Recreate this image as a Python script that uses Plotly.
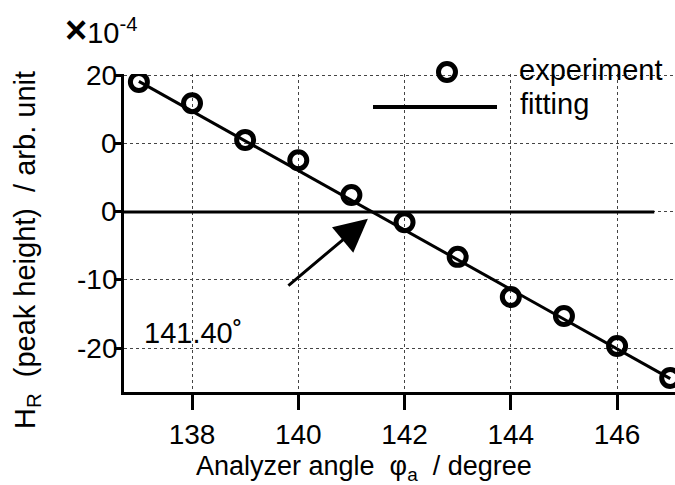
import plotly.graph_objects as go

# ---- data ----
angle = [137, 138, 139, 140, 141, 142, 143, 144, 145, 146, 147]
hr = [19.1, 16.0, 10.6, 7.6, 2.5, -1.5, -6.6, -12.5, -15.3, -19.7, -24.4]
fit_angle = [137, 147]
fit_hr = [19.2, -24.5]
zero_angle = [136.72, 146.7]
zero_hr = [0, 0]
x_tickvals = [138, 140, 142, 144, 146]
y_tickvals = [20, 10, 0, -10, -20]
y_ticktext = ["20", "0", "0", "-10", "-20"]
cross_angle = 141.31
cross_hr = -1.0

FONT = "Liberation Sans"
fs = 28

fig = go.Figure()
fig.add_trace(go.Scatter(x=zero_angle, y=zero_hr, mode="lines",
                         line=dict(color="black", width=3), showlegend=False))
fig.add_trace(go.Scatter(x=fit_angle, y=fit_hr, mode="lines",
                         line=dict(color="black", width=3), showlegend=False))
fig.add_trace(go.Scatter(x=angle, y=hr, mode="markers",
                         marker=dict(symbol="circle-open", size=17, color="black",
                                     line=dict(width=5, color="black")),
                         showlegend=False))

axis_common = dict(showline=True, linewidth=3, linecolor="black", mirror=False,
                   ticks="outside", tickcolor="black", tickwidth=3,
                   showgrid=True, gridcolor="#444", gridwidth=1, griddash="dot",
                   zeroline=False, tickfont=dict(family=FONT, size=fs, color="black"))

fig.update_xaxes(range=[136.72, 147.09], tickvals=x_tickvals, ticklen=15, **axis_common)
fig.update_yaxes(range=[-26.47, 20.29], tickvals=y_tickvals, ticktext=y_ticktext,
                 ticklen=7, showticklabels=False, **axis_common)

def px(x):
    return (x - 124) / 551

def py(y):
    return (392 - y) / 318

shapes = [
    dict(type="rect", xref="paper", yref="paper", x0=px(420), x1=1.0, y0=py(88), y1=py(50),
         fillcolor="white", line=dict(width=0), layer="between"),
    dict(type="line", xref="paper", yref="paper", x0=px(373), x1=px(497), y0=py(107), y1=py(107),
         line=dict(color="black", width=4)),
    dict(type="circle", xref="paper", yref="paper", xsizemode="pixel", ysizemode="pixel",
         xanchor=px(447), yanchor=py(72), x0=-8.5, x1=8.5, y0=-8.5, y1=8.5,
         line=dict(color="black", width=5)),
]

annotations = [
    dict(text="experiment", xref="paper", yref="paper", x=px(517), y=py(70),
         xanchor="left", yanchor="middle", showarrow=False,
         font=dict(family=FONT, size=29, color="black")),
    dict(text="fitting", xref="paper", yref="paper", x=px(518), y=py(104),
         xanchor="left", yanchor="middle", showarrow=False,
         font=dict(family=FONT, size=29, color="black")),
    dict(text="<span style='font-size:38px'><b>×</b></span>10<sup>-4</sup>",
         xref="paper", yref="paper", x=px(63), y=py(30),
         xanchor="left", yanchor="middle", showarrow=False,
         font=dict(family=FONT, size=29, color="black")),
    dict(text="H<sub>R</sub>  (peak height)  / arb. unit", xref="paper", yref="paper",
         x=px(27), y=py(250), xanchor="center", yanchor="middle", textangle=-90,
         showarrow=False, font=dict(family=FONT, size=29, color="black")),
    dict(text="Analyzer angle  φ<sub>a</sub>  / degree", xref="paper", yref="paper",
         x=px(364), y=py(468), xanchor="center", yanchor="middle", showarrow=False,
         font=dict(family=FONT, size=27, color="black")),
    dict(text="141.40˚", xref="paper", yref="paper", x=px(193), y=py(333),
         xanchor="center", yanchor="middle", showarrow=False,
         font=dict(family=FONT, size=29, color="black")),
    dict(text="", x=cross_angle, y=cross_hr, xref="x", yref="y", showarrow=True,
         ax=-81, ay=68, arrowhead=2, arrowsize=2.2, arrowwidth=3, arrowcolor="black"),
]

# y tick labels placed next to the axis (closer than plotly's default)
for v, t in zip(y_tickvals, y_ticktext):
    annotations.append(dict(text=t, x=px(119), y=v, xref="paper", yref="y",
                            xanchor="right", yanchor="middle", showarrow=False,
                            font=dict(family=FONT, size=fs, color="black")))

fig.update_layout(width=675, height=485, margin=dict(l=124, r=0, t=74, b=93),
                  paper_bgcolor="white", plot_bgcolor="white",
                  shapes=shapes, annotations=annotations, showlegend=False,
                  font=dict(family=FONT, size=fs, color="black"))

fig.write_html("out.html", config={"displayModeBar": False},
               post_script="document.body.style.margin='0px';document.body.style.padding='0px';")
